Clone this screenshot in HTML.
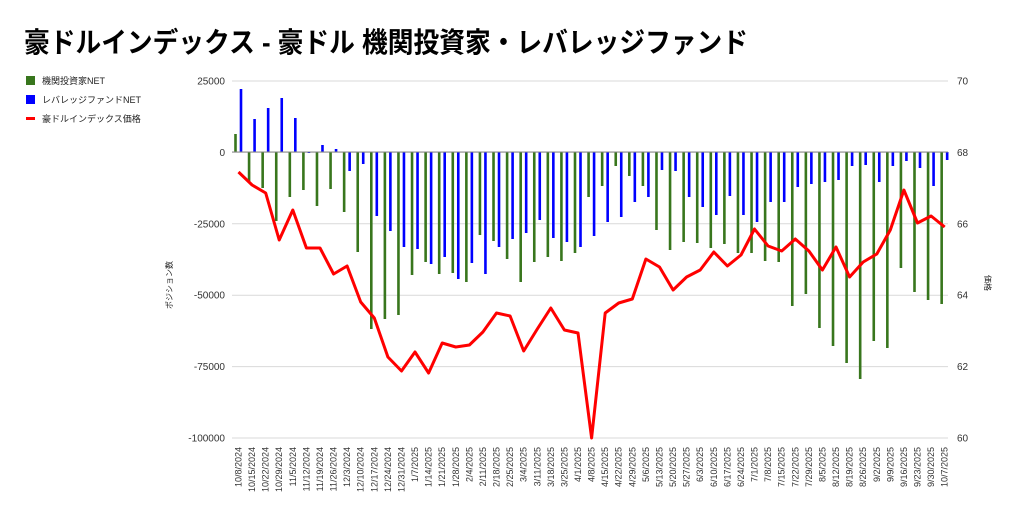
<!DOCTYPE html>
<html><head><meta charset="utf-8"><style>
html,body{margin:0;padding:0;background:#fff;}
svg{display:block;font-family:"Liberation Sans","Noto Sans CJK JP",sans-serif;}
</style></head><body>
<svg id="c" width="1024" height="519" viewBox="0 0 1024 519" xmlns="http://www.w3.org/2000/svg">
<rect width="1024" height="519" fill="#fff"/>
<text x="24" y="52" font-size="28" font-weight="bold" fill="#000" textLength="724" lengthAdjust="spacingAndGlyphs">豪ドルインデックス - 豪ドル 機関投資家・レバレッジファンド</text>
<rect x="26" y="76" width="9" height="9" fill="#38761d"/>
<text x="42" y="84" font-size="9" fill="#222">機関投資家NET</text>
<rect x="26" y="95" width="9" height="9" fill="#0000ff"/>
<text x="42" y="103" font-size="9" fill="#222">レバレッジファンドNET</text>
<rect x="26" y="117" width="9" height="3" fill="#ff0000"/>
<text x="42" y="122" font-size="9" fill="#222">豪ドルインデックス価格</text>
<g id="grid" stroke="#d9d9d9" stroke-width="1"></g>
<g id="bars"></g>
<line x1="232" y1="152" x2="948" y2="152" stroke="#888" stroke-width="1"/>
<g id="lbl" font-size="10" fill="#333"></g>
<text transform="translate(172,285) rotate(-90)" font-size="8" fill="#222" text-anchor="middle">ポジション数</text>
<text transform="translate(985,283) rotate(90)" font-size="8" fill="#222" text-anchor="middle">価格</text>
</svg>
<script>
var NS="http://www.w3.org/2000/svg";
function el(p,t,a,txt){var e=document.createElementNS(NS,t);for(var k in a)e.setAttribute(k,a[k]);if(txt!=null)e.textContent=txt;p.appendChild(e);return e;}
var g=document.getElementById('grid'),b=document.getElementById('bars'),l=document.getElementById('lbl');
var ly=["25000","0","-25000","-50000","-75000","-100000"],ry=["70","68","66","64","62","60"];
for(var i=0;i<6;i++){var y=81+i*71.4;el(g,'line',{x1:232,y1:y,x2:948,y2:y});
el(l,'text',{x:225,y:y+3.5,'text-anchor':'end'},ly[i]);el(l,'text',{x:957,y:y+3.5},ry[i]);}
var G=[134,182,188,221,197,190,206,189,212,252,329,319,315,275,262,274,273,282,235,241,259,282,262,257,261,253,197,186,166,176,186,230,250,242,243,248,244,253,253,261,262,306,294,328,346,363,379,341,348,268,292,300,304];
var B=[89,119,108,98,118,153,145,149,171,164,216,231,247,249,264,257,279,263,274,247,239,233,220,238,242,247,236,222,217,202,197,170,171,197,207,215,196,215,222,202,202,187,184,182,180,166,165,182,166,161,168,186,160];
var R=[172,185,193,240,210,248,248,274,266,302,318,357,371,352,373,343,347,345,332,313,316,351,329,308,330,333,438,313,303,299,259,267,290,277,270,252,266,255,229,246,251,239,251,270,247,277,262,254,230,190,223,216,227];
var pts=[];
var d=new Date(2024,9,8);
for(var i=0;i<53;i++){var c=238.5+13.58*i;
var gy=G[i];el(b,'rect',{x:c-4.3,y:Math.min(gy,152),width:2.6,height:Math.abs(gy-152),fill:'#38761d'});
var by=B[i];el(b,'rect',{x:c+1.2,y:Math.min(by,152),width:2.6,height:Math.max(Math.abs(by-152),0.5),fill:'#0000ff'});
pts.push(c.toFixed(1)+','+R[i]);
var dd=new Date(d.getTime()+i*7*86400000);var s=(dd.getMonth()+1)+'/'+dd.getDate()+'/'+dd.getFullYear();
el(l,'text',{transform:'translate('+(c+3)+',447) rotate(-90)','text-anchor':'end','font-size':'9'},s);}
el(b,'polyline',{points:pts.join(' '),fill:'none',stroke:'#ff0000','stroke-width':3,'stroke-linejoin':'round'});
</script>
</body></html>
